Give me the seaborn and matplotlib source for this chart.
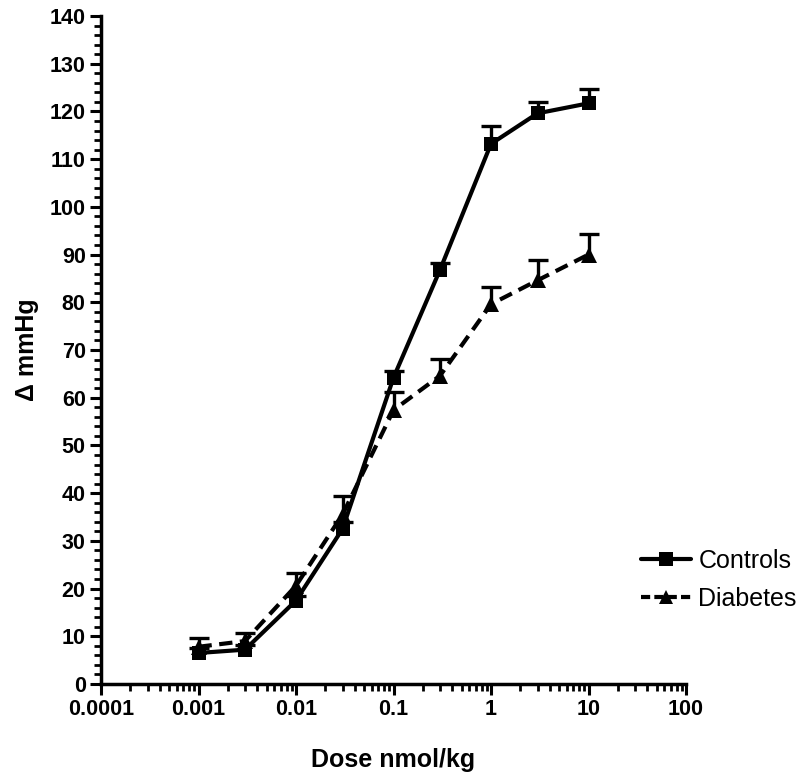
import numpy as np
import pandas as pd
import matplotlib
matplotlib.use("Agg")
import matplotlib.pyplot as plt
import seaborn as sns
from matplotlib.ticker import LogLocator, FixedLocator, AutoMinorLocator, NullFormatter, FixedFormatter
from matplotlib.lines import Line2D

dose = [0.001, 0.003, 0.01, 0.03, 0.1, 0.3, 1, 3, 10]
controls = [6.5, 7.2, 17.5, 32.5, 64.2, 86.8, 113.2, 119.6, 121.7]
controls_err = [1.0, 1.0, 1.0, 1.5, 1.5, 1.5, 3.8, 2.3, 3.0]
diabetes = [7.8, 9.0, 20.6, 35.5, 57.4, 64.6, 79.6, 84.6, 90.0]
diabetes_err = [1.8, 1.7, 2.6, 4.0, 3.8, 3.6, 3.7, 4.3, 4.4]
series_names = ["Controls", "Diabetes"]
x_ticks = [0.0001, 0.001, 0.01, 0.1, 1, 10, 100]
x_labels = ["0.0001", "0.001", "0.01", "0.1", "1", "10", "100"]
y_ticks = list(range(0, 141, 10))

sns.set_theme(style="ticks")
plt.rcParams['font.family'] = ['Liberation Sans', 'DejaVu Sans']
plt.rcParams.update({"text.color": "black", "axes.labelcolor": "black",
                     "xtick.color": "black", "ytick.color": "black",
                     "xtick.labelcolor": "black", "ytick.labelcolor": "black"})

df = pd.DataFrame({
    "dose": dose * 2,
    "value": controls + diabetes,
    "err": controls_err + diabetes_err,
    "group": [series_names[0]] * len(dose) + [series_names[1]] * len(dose),
})

fig = plt.figure(figsize=(8.04, 7.76), dpi=100)
ax = fig.add_axes([101 / 804, 1 - 684 / 776, (686 - 101) / 804, (684 - 16) / 776])

styles = {"Controls": dict(ls="-", marker="s", ms=10.5),
          "Diabetes": dict(ls=(0, (3.2, 1.8)), marker="^", ms=11)}

for name in series_names:
    sub = df[df.group == name]
    eb = ax.errorbar(sub["dose"], sub["value"], yerr=[np.zeros(len(sub)), sub["err"]],
                     fmt="none", ecolor="black", elinewidth=2.4, capsize=7.5, capthick=2.4, zorder=2)
    caps = eb.lines[1]
    if len(caps) == 2:
        caps[0].set_visible(False)
    sns.lineplot(data=sub, x="dose", y="value", ax=ax, color="black", lw=3,
                 linestyle=styles[name]["ls"], marker=styles[name]["marker"],
                 markersize=styles[name]["ms"], markeredgewidth=0, legend=False, zorder=3)

ax.set_xscale("log")
ax.set_xlim(0.0001, 100)
ax.set_ylim(0, 140)
ax.xaxis.set_major_locator(FixedLocator(x_ticks))
ax.xaxis.set_major_formatter(FixedFormatter(x_labels))
ax.xaxis.set_minor_locator(LogLocator(base=10, subs=np.arange(2, 10)))
ax.xaxis.set_minor_formatter(NullFormatter())
ax.yaxis.set_major_locator(FixedLocator(y_ticks))
ax.yaxis.set_minor_locator(AutoMinorLocator(5))

for s in ["top", "right"]:
    ax.spines[s].set_visible(False)
for s in ["left", "bottom"]:
    ax.spines[s].set_linewidth(2.5)
    ax.spines[s].set_color("black")

ax.tick_params(which="major", length=8, width=2.2, direction="out", color="black",
               labelcolor="black", labelsize=15.5, pad=3)
ax.tick_params(which="minor", length=5, width=2, direction="out", color="black")
for lab in ax.get_xticklabels() + ax.get_yticklabels():
    lab.set_fontweight("bold")

ax.set_xlabel("Dose nmol/kg", fontsize=18, fontweight="bold", labelpad=20, color="black")
ax.set_ylabel("Δ mmHg", fontsize=18, fontweight="bold", labelpad=8, color="black")

handles = [Line2D([], [], color="black", lw=3, ls="-", marker="s", ms=10, markeredgewidth=0),
           Line2D([], [], color="black", lw=3, ls=(0, (2.2, 1.0)), marker="^", ms=10, markeredgewidth=0)]
leg = fig.legend(handles, series_names, loc="center left", bbox_to_anchor=(641 / 804, 1 - 580 / 776),
                 frameon=False, fontsize=18, handlelength=2.0, handletextpad=0.3, labelspacing=0.55,
                 borderaxespad=0, borderpad=0)
for t in leg.get_texts():
    t.set_color("black")

fig.savefig("out.png", dpi=100)
